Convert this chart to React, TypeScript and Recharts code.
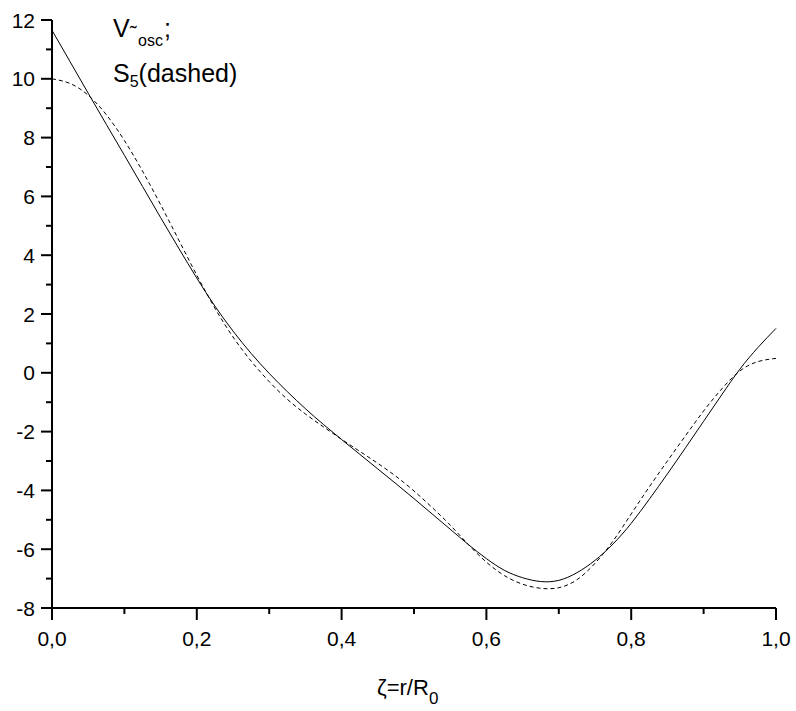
import { LineChart, Line, XAxis, YAxis } from 'recharts'

// zeta = r/R0 sample points
const zeta = [
  0, 0.025, 0.05, 0.075, 0.1, 0.125, 0.15, 0.175, 0.2, 0.225,
  0.25, 0.275, 0.3, 0.325, 0.35, 0.375, 0.4, 0.425, 0.45, 0.475,
  0.5, 0.525, 0.55, 0.575, 0.6, 0.625, 0.65, 0.675, 0.7, 0.725,
  0.75, 0.775, 0.8, 0.825, 0.85, 0.875, 0.9, 0.925, 0.95, 0.975, 1,
]

// V~osc (solid)
const vOsc = [
  11.65, 10.58, 9.51, 8.45, 7.4, 6.34, 5.28, 4.24, 3.22, 2.27,
  1.42, 0.66, -0.02, -0.64, -1.22, -1.76, -2.27, -2.77, -3.27, -3.77,
  -4.28, -4.8, -5.32, -5.84, -6.32, -6.72, -6.97, -7.1, -7.06, -6.8,
  -6.38, -5.82, -5.12, -4.3, -3.44, -2.55, -1.65, -0.75, 0.12, 0.86, 1.51,
]

// S5 (dashed)
const s5 = [
  10.0, 9.84, 9.44, 8.78, 7.9, 6.86, 5.72, 4.52, 3.32, 2.2,
  1.22, 0.4, -0.3, -0.9, -1.4, -1.84, -2.26, -2.67, -3.08, -3.52,
  -4.02, -4.58, -5.18, -5.84, -6.44, -6.9, -7.19, -7.33, -7.31, -7.04,
  -6.48, -5.72, -4.8, -3.88, -3.0, -2.14, -1.3, -0.55, 0.06, 0.38, 0.49,
]

const xTicks = [0, 0.1, 0.2, 0.3, 0.4, 0.5, 0.6, 0.7, 0.8, 0.9, 1]
const yTicks = [-8, -7, -6, -5, -4, -3, -2, -1, 0, 1, 2, 3, 4, 5, 6, 7, 8, 9, 10, 11, 12]

const data = zeta.map((z, i) => ({ z, v: vOsc[i], s: s5[i] }))

const FONT = '"Liberation Sans", Arial, sans-serif'

function XTick({ x, y, payload }: any) {
  const v = payload.value
  const major = Math.round(v * 10) % 2 === 0
  return (
    <g>
      <line x1={x} y1={y} x2={x} y2={y + (major ? 12 : 6)} stroke="#000" strokeWidth={2} />
      {major && (
        <text x={x} y={y + 38} textAnchor="middle" fontSize={21} fontFamily={FONT} fill="#000">
          {v.toFixed(1).replace('.', ',')}
        </text>
      )}
    </g>
  )
}

function YTick({ x, y, payload }: any) {
  const v = payload.value
  const major = v % 2 === 0
  return (
    <g>
      <line x1={x - (major ? 11 : 6)} y1={y} x2={x} y2={y} stroke="#000" strokeWidth={2} />
      {major && (
        <text x={x - 17} y={y + 7.5} textAnchor="end" fontSize={21} fontFamily={FONT} fill="#000">
          {v}
        </text>
      )}
    </g>
  )
}

export default function App() {
  return (
    <div style={{ position: 'absolute', left: 0, top: 0, width: 796, height: 711, background: '#fff', fontFamily: FONT }}>
      <LineChart width={796} height={711} data={data} margin={{ top: 20, right: 20, bottom: 43, left: 0 }}>
        <XAxis
          dataKey="z"
          type="number"
          domain={[0, 1]}
          ticks={xTicks}
          interval={0}
          tick={<XTick />}
          tickLine={false}
          tickSize={0}
          tickMargin={0}
          height={60}
          axisLine={{ stroke: '#000', strokeWidth: 2 }}
        />
        <YAxis
          type="number"
          domain={[-8, 12]}
          ticks={yTicks}
          interval={0}
          tick={<YTick />}
          tickLine={false}
          tickSize={0}
          tickMargin={0}
          width={52}
          axisLine={{ stroke: '#000', strokeWidth: 2 }}
        />
        <Line dataKey="v" type="natural" stroke="#000" strokeWidth={1} dot={false} isAnimationActive={false} />
        <Line dataKey="s" type="natural" stroke="#000" strokeWidth={1} strokeDasharray="4 3" dot={false} isAnimationActive={false} />
      </LineChart>
      <svg width={796} height={711} style={{ position: 'absolute', left: 0, top: 0, pointerEvents: 'none' }}>
        <g fontFamily={FONT} fill="#000">
          <text x={113} y={37} fontSize={25}>V</text>
          <text x={130} y={40} fontSize={20}>˜</text>
          <text x={138} y={46} fontSize={16}>osc</text>
          <text x={164} y={37} fontSize={25}>;</text>
          <text x={113} y={82} fontSize={25}>
            S<tspan fontSize={16} dy={5}>5</tspan>
            <tspan fontSize={25} dy={-5}>(dashed)</tspan>
          </text>
          <text x={377} y={695} fontSize={22}>
            ζ=r/R<tspan fontSize={17} dy={9}>0</tspan>
          </text>
        </g>
      </svg>
    </div>
  )
}
